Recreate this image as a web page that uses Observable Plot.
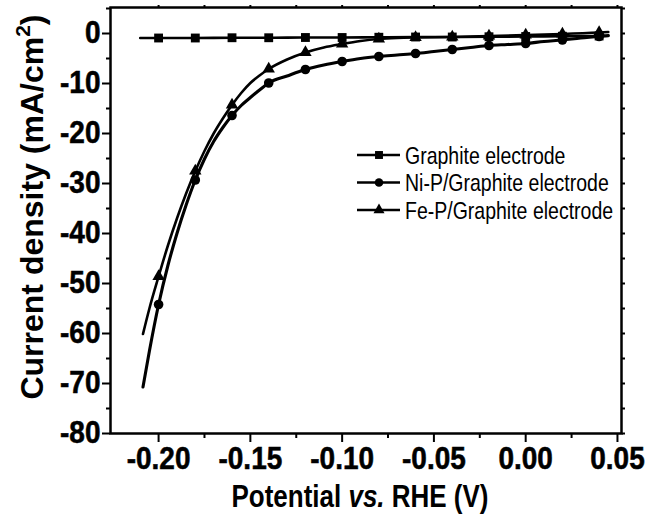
<!DOCTYPE html>
<html>
<head>
<meta charset="utf-8">
<script src="https://cdn.jsdelivr.net/npm/d3@7"></script>
<script src="https://cdn.jsdelivr.net/npm/@observablehq/plot@0.6"></script>
<style>
  body { margin: 0; background: #fff; }
  #chart { width: 655px; height: 522px; }
  #chart svg text { font-weight: 700 !important; }
  #chart svg text.legend-label { font-weight: 400 !important; }
</style>
</head>
<body>
<div id="chart"></div>
<script>
// Polarisation curves (LSV) of the three electrodes
const seriesNames = ["Graphite electrode", "Ni-P/Graphite electrode", "Fe-P/Graphite electrode"];
const seriesSymbols = ["square", "circle", "triangle"];

// potentials (V vs. RHE) where markers are drawn
const markerPotentials = [-0.20, -0.18, -0.16, -0.14, -0.12, -0.10, -0.08, -0.06, -0.04, -0.02, 0.00, 0.02, 0.04];

const graphitePotential = [-0.21, -0.20, -0.18, -0.16, -0.14, -0.12, -0.10, -0.08, -0.06, -0.04, -0.02, 0.00, 0.02, 0.04, 0.045];
const graphiteCurrent   = [-0.9, -0.9, -0.9, -0.85, -0.85, -0.8, -0.8, -0.75, -0.7, -0.7, -0.65, -0.6, -0.55, -0.5, -0.5];

const niPPotential = [-0.2085, -0.205, -0.20, -0.195, -0.19, -0.185, -0.18, -0.175, -0.17, -0.165, -0.16, -0.155, -0.15, -0.145, -0.14, -0.13, -0.12, -0.11, -0.10, -0.09, -0.08, -0.07, -0.06, -0.05, -0.04, -0.03, -0.02, -0.01, 0.00, 0.01, 0.02, 0.03, 0.04, 0.045];
const niPCurrent   = [-70.7, -63.5, -54.2, -46.5, -40.0, -34.3, -29.3, -25.1, -21.6, -18.8, -16.4, -14.4, -12.8, -11.3, -9.9, -8.5, -7.2, -6.3, -5.6, -5.0, -4.6, -4.3, -4.0, -3.6, -3.2, -2.8, -2.4, -2.2, -2.0, -1.6, -1.3, -0.9, -0.6, -0.4];

const fePPotential = [-0.2085, -0.205, -0.20, -0.195, -0.19, -0.185, -0.18, -0.175, -0.17, -0.165, -0.16, -0.155, -0.15, -0.145, -0.14, -0.13, -0.12, -0.11, -0.10, -0.09, -0.08, -0.07, -0.06, -0.04, -0.02, 0.00, 0.02, 0.04, 0.045];
const fePCurrent   = [-60.1, -55.0, -48.6, -42.5, -37.0, -32.0, -27.5, -23.5, -20.0, -17.0, -14.3, -11.9, -9.9, -8.4, -7.1, -5.2, -3.8, -2.8, -2.1, -1.5, -1.1, -0.9, -0.8, -0.7, -0.5, -0.3, -0.1, 0.2, 0.3];

const xMajorTicks = [-0.20, -0.15, -0.10, -0.05, 0.00, 0.05];
const xMinorTicks = [-0.175, -0.125, -0.075, -0.025, 0.025];
const yMajorTicks = [-80, -70, -60, -50, -40, -30, -20, -10, 0];
const yMinorTicks = [-75, -65, -55, -45, -35, -25, -15, -5, 5];

const xTitle = ["Potential ", "vs.", " RHE (V)"];
const yTitle = ["Current density (mA/cm", "2", ")"];

// long-format table built from the arrays above
const series = [
  {name: seriesNames[0], potential: graphitePotential, current: graphiteCurrent},
  {name: seriesNames[1], potential: niPPotential, current: niPCurrent},
  {name: seriesNames[2], potential: fePPotential, current: fePCurrent}
];
const rows = series.flatMap(s => s.potential.map((p, i) => ({series: s.name, potential: p, current: s.current[i]})));
const isMarker = p => markerPotentials.some(m => Math.abs(m - p) < 1e-9);

const symbolR = [5, 4.8, 4.6];
const lineWidths = [2.6, 3.1, 2.6];

const fmtX = d => d.toFixed(2);
const fmtY = d => String(d);

const plot = Plot.plot({
  width: 655,
  height: 522,
  marginLeft: 110,
  marginRight: 34,
  marginTop: 7,
  marginBottom: 89,
  style: {fontFamily: "Liberation Sans", background: "#fff", color: "#000", overflow: "visible"},
  x: {domain: [-0.2262, 0.0522]},
  y: {domain: [-80, 5.2]},
  marks: [
    ...series.map((s, i) => Plot.line(rows.filter(r => r.series === s.name), {
      x: "potential", y: "current", stroke: "#000", strokeWidth: lineWidths[i], curve: "monotone-x"
    })),
    ...series.map((s, i) => Plot.dot(rows.filter(r => r.series === s.name && isMarker(r.potential)), {
      x: "potential", y: "current", symbol: seriesSymbols[i], r: symbolR[i], fill: "#000", stroke: "none"
    })),
    Plot.frame({stroke: "#000", strokeWidth: 2.5}),
    // bottom axis: tick marks, then bold labels
    Plot.axisX(xMajorTicks, {anchor: "bottom", tickSize: 9, fill: "none", strokeWidth: 2, label: null}),
    Plot.axisX(xMinorTicks, {anchor: "bottom", tickSize: 5, fill: "none", strokeWidth: 2, label: null}),
    Plot.axisX(xMajorTicks, {anchor: "bottom", tickSize: 0, tickPadding: 14, tickFormat: fmtX, fontSize: 28, fontWeight: "bold", label: null}),
    // top axis: mirrored ticks without labels
    Plot.axisX(xMajorTicks.concat(xMinorTicks), {anchor: "top", tickSize: 3, fill: "none", strokeWidth: 2, label: null}),
    // left axis: tick marks, then bold labels
    Plot.axisY(yMajorTicks, {anchor: "left", tickSize: 8, fill: "none", strokeWidth: 2, label: null}),
    Plot.axisY(yMinorTicks, {anchor: "left", tickSize: 4, fill: "none", strokeWidth: 2, label: null}),
    Plot.axisY(yMajorTicks, {anchor: "left", tickSize: 0, tickPadding: 10, tickFormat: fmtY, fontSize: 28, fontWeight: "bold", label: null}),
    // right axis: mirrored ticks
    Plot.axisY(yMajorTicks.concat(yMinorTicks), {anchor: "right", tickSize: 3, fill: "none", strokeWidth: 2, label: null})
  ]
});

const svg = d3.select(plot);
const font = "Liberation Sans";

// heavier, slightly taller tick numerals
svg.selectAll('g[aria-label="x-axis tick label"] text, g[aria-label="y-axis tick label"] text')
  .each(function() { this.setAttribute("transform", (this.getAttribute("transform") || "") + " scale(1,1.1)"); })
  .attr("stroke", "#000").attr("stroke-width", 0.5);

// x-axis title with italic "vs." (slightly condensed lettering)
const xt = svg.append("text")
  .attr("transform", "translate(360,507) scale(1,1.18)")
  .attr("text-anchor", "middle")
  .attr("font-family", font).attr("font-size", 26).attr("font-weight", "bold").attr("fill", "#000");
xt.append("tspan").text(xTitle[0]);
xt.append("tspan").attr("font-style", "italic").text(xTitle[1]);
xt.append("tspan").text(xTitle[2]);

// y-axis title with superscript
const yt = svg.append("text")
  .attr("transform", "translate(43,207) rotate(-90)")
  .attr("text-anchor", "middle")
  .attr("font-family", font).attr("font-size", 32).attr("font-weight", "bold").attr("fill", "#000");
yt.append("tspan").text(yTitle[0]);
yt.append("tspan").attr("dy", -13).attr("font-size", 21).text(yTitle[1]);
yt.append("tspan").attr("dy", 13).text(yTitle[2]);

// legend
const legend = svg.append("g").attr("transform", "translate(357,155)");
seriesNames.forEach((name, i) => {
  const g = legend.append("g").attr("transform", `translate(0,${i * 27.5})`);
  g.append("line").attr("x1", 0).attr("x2", 43).attr("y1", 0).attr("y2", 0).attr("stroke", "#000").attr("stroke-width", 2.6);
  const symType = [d3.symbolSquare, d3.symbolCircle, d3.symbolTriangle][i];
  g.append("path").attr("transform", "translate(22,0)")
    .attr("d", d3.symbol(symType, Math.PI * symbolR[i] * symbolR[i] * 0.8)()).attr("fill", "#000");
  g.append("text").attr("class", "legend-label")
    .attr("transform", "translate(48,0) scale(1,1.22)").attr("dy", "0.36em")
    .attr("text-anchor", "start")
    .attr("font-family", font).attr("font-size", 19.5).attr("font-weight", "normal")
    .attr("fill", "#000").text(name);
});

document.getElementById("chart").appendChild(plot);
</script>
</body>
</html>
